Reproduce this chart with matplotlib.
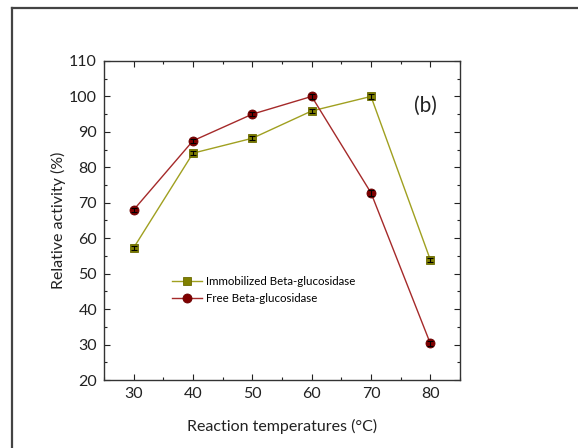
import matplotlib
matplotlib.use("Agg")
import matplotlib.pyplot as plt
from matplotlib.lines import Line2D
from matplotlib.ticker import MultipleLocator

plt.rcParams['font.family'] = ['Lato', 'DejaVu Sans']

temps = [30, 40, 50, 60, 70, 80]
immobilized = [57.3, 84.0, 88.2, 95.9, 100.0, 53.9]
free = [68.0, 87.5, 95.0, 100.0, 72.8, 30.3]
imm_err = [0.6, 0.6, 0.6, 0.6, 0.6, 0.6]
free_err = [0.6, 0.6, 0.6, 0.6, 0.8, 0.6]

fig = plt.figure(figsize=(5.78, 4.48), dpi=100)
ax = fig.add_axes([104 / 578, 1 - 380 / 448, 356 / 578, 319 / 448])

# outer frame (left and top edges only visible)
fx = 11.5 / 578
fy = 1 - 8.5 / 448
fig.add_artist(Line2D([fx, fx], [0, fy], transform=fig.transFigure, color='#444444', lw=1.6))
fig.add_artist(Line2D([fx, 1], [fy, fy], transform=fig.transFigure, color='#444444', lw=1.6))

ax.plot(temps, immobilized, color='#a0a020', lw=1.0, marker='s', ms=5.5,
        mfc='#808000', mec='#6a6a00', mew=0.6, label='Immobilized Beta-glucosidase', zorder=3)
ax.plot(temps, free, color='#a52a2a', lw=1.0, marker='o', ms=6.5,
        mfc='#800000', mec='#6a0000', mew=0.6, label='Free Beta-glucosidase', zorder=3)
ax.errorbar(temps, immobilized, yerr=imm_err, fmt='none', ecolor='black',
            elinewidth=0.8, capsize=2, capthick=0.8, zorder=4)
ax.errorbar(temps, free, yerr=free_err, fmt='none', ecolor='black',
            elinewidth=0.8, capsize=2, capthick=0.8, zorder=4)

ax.set_xlim(25, 85)
ax.set_ylim(20, 110)
ax.xaxis.set_major_locator(MultipleLocator(10))
ax.xaxis.set_minor_locator(MultipleLocator(5))
ax.yaxis.set_major_locator(MultipleLocator(10))
ax.yaxis.set_minor_locator(MultipleLocator(5))
ax.tick_params(which='both', direction='in', top=True, right=True, width=0.8, labelsize=11.5, colors='#222222')
ax.tick_params(which='major', length=4, pad=5)
ax.tick_params(which='minor', length=2)
for s in ax.spines.values():
    s.set_linewidth(1.0)
    s.set_color('#333333')

ax.set_xlabel('Reaction temperatures (°C)', fontsize=11.5, labelpad=13, color='#222222')
ax.set_ylabel('Relative activity (%)', fontsize=11.5, labelpad=2, color='#222222')

ax.text(0.902, 0.859, '(b)', transform=ax.transAxes, fontsize=15, ha='center', va='center', color='#222222')

ax.legend(loc='center left', bbox_to_anchor=(0.19, 0.282), frameon=False, fontsize=8.3,
          handlelength=2.6, handletextpad=0.4, labelspacing=0.5, borderpad=0, borderaxespad=0)

fig.savefig('out.png', dpi=100)
